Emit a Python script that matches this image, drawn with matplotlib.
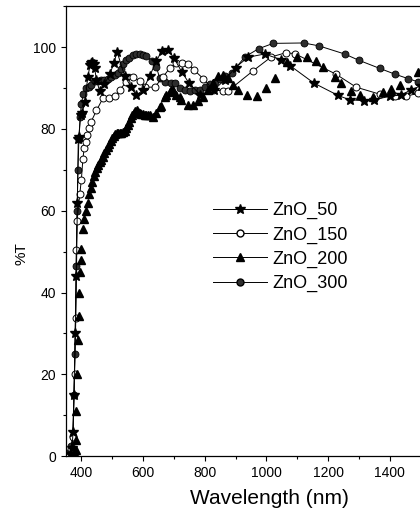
import numpy as np
import matplotlib
matplotlib.use("Agg")
import matplotlib.pyplot as plt
import matplotlib.ticker as ticker
from matplotlib.lines import Line2D

plt.rcParams['font.family'] = ['Liberation Sans', 'DejaVu Sans']

# ZnO_50 (stars)
wl_50 = [365, 370, 373, 376, 380, 384, 387, 390, 392, 398, 403, 411, 421, 428,
         432, 436, 440, 443, 449, 459, 475, 492, 505, 516, 540, 562, 578, 600,
         622, 643, 660, 680, 700, 725, 749, 785, 830, 865, 900, 940, 994, 1049,
         1078, 1154, 1232, 1270, 1317, 1348, 1402, 1438, 1470, 1500]
t_50 = [0.5, 2, 6, 15, 30, 44, 62, 77.5, 78, 83.5, 84, 86.5, 92.7, 95.5,
        96, 96.4, 95.8, 94.8, 92, 89.3, 91, 93.3, 96, 98.8, 93, 90.2, 88.2, 89.5,
        93, 96.5, 99, 99.3, 97.4, 94, 91.2, 88.4, 89.5, 92, 95, 97.5, 98.3, 96.9,
        95.4, 91.2, 88.2, 87.1, 86.9, 87.1, 88, 88.3, 89.6, 90.5]

# ZnO_150 (open circles)
wl_150 = [365, 373, 378, 382, 384, 386, 395, 400, 405, 409, 414, 419, 425, 432,
          449, 470, 489, 510, 524, 546, 567, 589, 605, 638, 665, 686, 708, 728,
          746, 764, 795, 827, 859, 876, 957, 1016, 1063, 1092, 1225, 1291, 1367,
          1416, 1454, 1492]
t_150 = [1.7, 4.6, 20.2, 33.8, 50.5, 57.6, 64.1, 67.6, 72.6, 75.3, 76.9, 78.5,
         80.1, 81.8, 84.5, 87.5, 87.5, 88.0, 89.5, 91.5, 92.7, 91.7, 90.2, 90.2,
         92.7, 94.8, 96.0, 96.2, 95.8, 94.5, 92.3, 89.5, 89.3, 89.3, 94.2, 97.6,
         98.6, 98.4, 93.4, 90.2, 88.5, 88.0, 88.0, 88.7]

# ZnO_200 (filled triangles)
wl_200 = [380, 382, 383, 384, 385, 388, 391, 393, 395, 398, 400, 405, 410, 415,
          420, 425, 430, 435, 440, 445, 450, 455, 460, 465, 470, 475, 480, 485,
          490, 495, 500, 505, 510, 515, 520, 525, 530, 535, 540, 545, 550, 555,
          560, 565, 570, 575, 580, 585, 590, 595, 600, 605, 610, 615, 623, 632,
          643, 654, 659, 670, 675, 686, 692, 697, 708, 719, 724, 746, 762, 778,
          795, 811, 827, 843, 859, 876, 892, 908, 938, 970, 1000, 1029, 1068,
          1100, 1132, 1162, 1184, 1222, 1243, 1276, 1305, 1346, 1378, 1405, 1432,
          1492]
t_200 = [0.5, 1.5, 4, 11, 20, 28.5, 34.2, 39.8, 45, 48, 50.6, 55.5, 58, 60,
         62, 64, 65.5, 67, 68.5, 69.5, 70.5, 71.2, 72, 72.5, 73.2, 74, 74.8, 75.5,
         76.2, 77, 77.8, 78.3, 78.7, 78.9, 79, 79, 79.1, 79.3, 79.6, 80.2, 81, 81.8,
         82.6, 83.4, 84, 84.4, 84.5, 84.2, 83.9, 83.7, 83.6, 83.5, 83.3, 83.3, 83.4,
         83, 83.8, 85.4, 85.6, 87.9, 88.3, 89.1, 89.5, 89.5, 88.3, 87.9, 87.1, 85.9,
         85.9, 86.7, 87.9, 89.5, 91.1, 92.9, 93.2, 92.4, 90.7, 89.6, 88.2, 88.1,
         90.0, 92.5, 96.4, 97.5, 97.5, 96.6, 95.2, 92.6, 91.1, 89.3, 88.3, 87.7,
         89.1, 89.8, 90.7, 93.9]

# ZnO_300 (shaded balls)
wl_300 = [363, 367, 372, 376, 379, 383, 386, 389, 392, 396, 400, 406, 416, 425,
          432, 443, 454, 465, 475, 486, 497, 508, 519, 528, 535, 546, 556, 567,
          578, 589, 600, 611, 630, 643, 654, 670, 692, 703, 719, 735, 751, 767,
          784, 800, 816, 832, 849, 865, 887, 930, 975, 1022, 1121, 1170, 1254,
          1299, 1367, 1416, 1459, 1492]
t_300 = [1, 2.5, 5, 15, 25, 46.5, 60, 70, 77.5, 83, 86, 88.5, 90, 90.2,
         90.7, 91.7, 91.8, 91.9, 92, 92.2, 92.6, 93.1, 93.7, 94.6, 95.8, 96.8, 97.4,
         98.0, 98.2, 98.3, 98.1, 97.8, 96.5, 95.2, 92.4, 91.5, 91.2, 91.1, 89.9,
         89.5, 89.3, 89.4, 89.6, 90.3, 90.9, 91.5, 92.2, 92.9, 93.6, 97.6, 99.6,
         100.9, 101.0, 100.3, 98.3, 96.8, 94.8, 93.4, 92.3, 91.5]

fig = plt.figure(figsize=(4.2, 5.12), dpi=100)
ax = fig.add_axes([0.157, 0.109, 0.881, 0.879])

lw = 0.7
ax.plot(wl_300, t_300, '-', color='black', lw=lw, marker='o', ms=5,
        mfc='#2e2e2e', mec='black', mew=0.6)
ax.plot(wl_150, t_150, '-', color='black', lw=lw, marker='o', ms=5,
        mfc='white', mec='black', mew=0.7)
ax.plot(wl_200, t_200, ls='none', color='black', marker='^', ms=5.5,
        mfc='black', mec='black')
ax.plot(wl_50, t_50, '-', color='black', lw=lw, marker='*', ms=7,
        mfc='black', mec='black')

ax.set_xlim(350, 1550)
ax.set_ylim(0, 110)
ax.xaxis.set_major_locator(ticker.FixedLocator([400, 600, 800, 1000, 1200, 1400]))
ax.xaxis.set_minor_locator(ticker.FixedLocator([500, 700, 900, 1100, 1300, 1500]))
ax.yaxis.set_major_locator(ticker.MultipleLocator(20))
ax.yaxis.set_minor_locator(ticker.MultipleLocator(10))
ax.tick_params(which='major', direction='out', length=3.5, width=0.8, labelsize=10)
ax.tick_params(which='minor', direction='out', length=2.2, width=0.8)
ax.tick_params(top=False, right=False)
for s in ax.spines.values():
    s.set_linewidth(0.9)

ax.set_xlabel('Wavelength (nm)', fontsize=15)
ax.xaxis.set_label_coords(0.549, -0.072)
ax.set_ylabel('%T', fontsize=11)
ax.yaxis.set_label_coords(-0.102, 0.45)

handles = [
    Line2D([], [], color='black', lw=lw, marker='*', ms=7, mfc='black'),
    Line2D([], [], color='black', lw=lw, marker='o', ms=5, mfc='white', mec='black'),
    Line2D([], [], color='black', lw=lw, marker='^', ms=5.5, mfc='black'),
    Line2D([], [], color='black', lw=lw, marker='o', ms=5, mfc='#2e2e2e', mec='black'),
]
labels = ['ZnO_50', 'ZnO_150', 'ZnO_200', 'ZnO_300']
ax.legend(handles, labels, loc='upper left', bbox_to_anchor=(0.397, 0.565),
          frameon=False, fontsize=13, handlelength=3.0, handletextpad=0.3,
          labelspacing=0.4, borderpad=0, borderaxespad=0)

fig.savefig('out.png', dpi=100)
